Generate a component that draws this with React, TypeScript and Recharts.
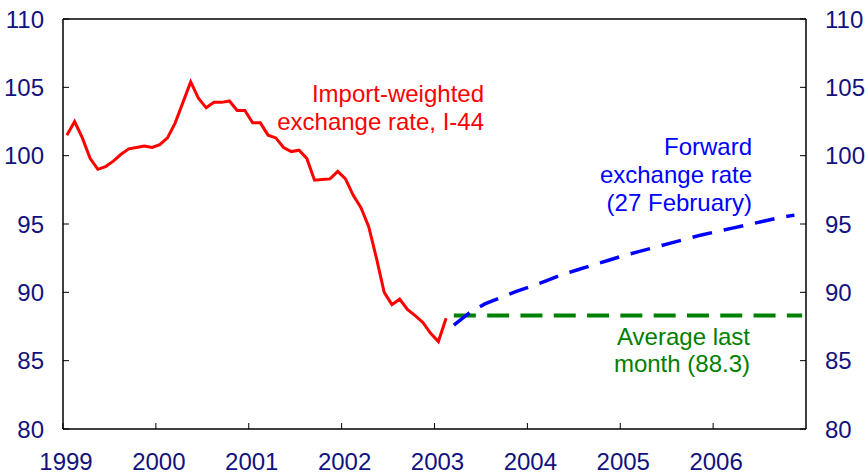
import { LineChart, Line, XAxis, YAxis, ReferenceLine } from 'recharts';

// I-44 import-weighted index, monthly from Jan 1999 to Feb 2003
const importWeighted = [
  101.5, 102.5, 101.3, 99.8, 99.0, 99.2, 99.6, 100.1, 100.5, 100.6, 100.7, 100.6,
  100.8, 101.3, 102.4, 103.9, 105.4, 104.2, 103.5, 103.9, 103.9, 104.0, 103.3, 103.3,
  102.4, 102.4, 101.5, 101.3, 100.6, 100.3, 100.4, 99.8, 98.2, 98.25, 98.3, 98.85,
  98.3, 97.1, 96.2, 94.8, 92.5, 90.0, 89.1, 89.5, 88.75, 88.3, 87.8, 87.0,
  86.4, 88.1,
];

// forward curve, months counted from Jan 1999
const forwardMonths = [50, 52, 54, 56, 58, 60, 62, 64, 66, 68, 70, 72, 74, 76, 78, 80, 82, 84, 86, 88, 90, 92, 94];
const forwardRate = [
  87.6, 88.5, 89.15, 89.6, 90.05, 90.45, 90.85, 91.3, 91.65, 92.0, 92.35, 92.7,
  93.0, 93.3, 93.6, 93.9, 94.2, 94.45, 94.7, 94.95, 95.2, 95.45, 95.65,
];

const averageLastMonth = 88.3;
const averageMonths = [50, 95];

const years = [1999, 2000, 2001, 2002, 2003, 2004, 2005, 2006];
const yTicks = [80, 85, 90, 95, 100, 105, 110];

const FONT = '"Liberation Sans", Arial, sans-serif';
const NAVY = '#12127e';

// points are plotted mid-month
const importData = importWeighted.map((v, i) => ({ m: i + 0.5, v }));
const forwardData = forwardMonths.map((mo, i) => ({ m: mo + 0.5, v: forwardRate[i] }));
const averageData = averageMonths.map((mo) => ({ m: mo + 0.5, v: averageLastMonth }));
const xTicks = years.map((y) => (y - 1999) * 12);

const tickStyle = { fill: NAVY, fontSize: 24, fontFamily: FONT };

export default function App() {
  return (
    <div style={{ position: 'absolute', left: 0, top: 0, width: 865, height: 474, background: '#fff' }}>
      <LineChart width={865} height={474} margin={{ top: 19, right: 0, bottom: 0, left: 0 }}>
        <XAxis
          type="number"
          dataKey="m"
          domain={[0, 96]}
          ticks={xTicks}
          tickFormatter={(m: number) => String(1999 + m / 12)}
          height={45}
          tickSize={-6}
          tickMargin={30}
          stroke="#000"
          tick={{ ...tickStyle, dx: 3 }}
          axisLine={{ stroke: '#000', strokeWidth: 1.5 }}
          tickLine={{ stroke: '#000' }}
          allowDataOverflow
        />
        <YAxis
          yAxisId="left"
          domain={[80, 110]}
          ticks={yTicks}
          width={63}
          tickSize={-6}
          tickMargin={25}
          tick={tickStyle}
          axisLine={{ stroke: '#000', strokeWidth: 1.5 }}
          tickLine={{ stroke: '#000' }}
          allowDataOverflow
        />
        <YAxis
          yAxisId="right"
          orientation="right"
          domain={[80, 110]}
          ticks={yTicks}
          width={59}
          tickSize={-6}
          tickMargin={25}
          tick={tickStyle}
          axisLine={{ stroke: '#000', strokeWidth: 1.5 }}
          tickLine={{ stroke: '#000' }}
          allowDataOverflow
        />
        <ReferenceLine yAxisId="left" y={110} stroke="#000" strokeWidth={1.5} />
        <Line
          yAxisId="left"
          data={averageData}
          dataKey="v"
          type="linear"
          stroke="#008000"
          strokeWidth={4}
          strokeDasharray="22 11.3"
          dot={false}
          isAnimationActive={false}
        />
        <Line
          yAxisId="left"
          data={forwardData}
          dataKey="v"
          type="linear"
          stroke="#0000ff"
          strokeWidth={3.5}
          strokeDasharray="20 12"
          dot={false}
          isAnimationActive={false}
        />
        <Line
          yAxisId="left"
          data={importData}
          dataKey="v"
          type="linear"
          stroke="#ff0000"
          strokeWidth={3}
          dot={false}
          isAnimationActive={false}
        />
      </LineChart>
      <svg
        width={865}
        height={474}
        style={{ position: 'absolute', left: 0, top: 0, pointerEvents: 'none' }}
        fontFamily={FONT}
        fontSize={24}
        textAnchor="end"
      >
        <text x={484} y={102} fill="#ff0000">Import-weighted</text>
        <text x={484} y={130} fill="#ff0000">exchange rate, I-44</text>
        <text x={752} y={155} fill="#0000ff">Forward</text>
        <text x={752} y={183} fill="#0000ff">exchange rate</text>
        <text x={752} y={211} fill="#0000ff">(27 February)</text>
        <text x={750} y={345} fill="#008000">Average last</text>
        <text x={750} y={372} fill="#008000">month (88.3)</text>
      </svg>
    </div>
  );
}
